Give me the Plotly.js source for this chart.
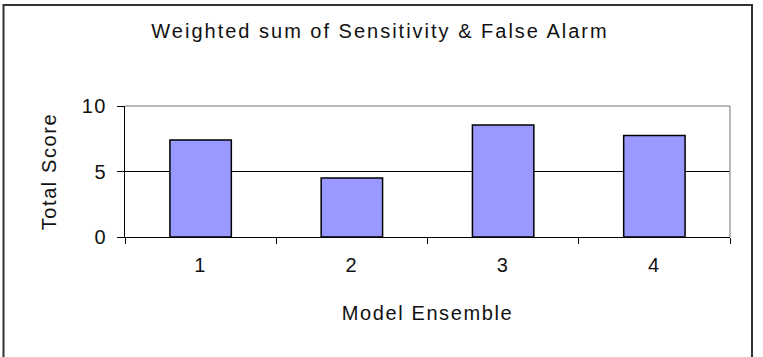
<!DOCTYPE html>
<html>
<head>
<meta charset="utf-8">
<script src="https://cdn.plot.ly/plotly-3.0.1.min.js"></script>
<style>
html,body{margin:0;padding:0;background:#fff;}
#chart{width:763px;height:357px;}
#chart .gtitle{letter-spacing:2px;}
#chart .xtitle,#chart .ytitle{letter-spacing:1.6px;}
#chart .xtick text,#chart .ytick text{letter-spacing:1.5px;}
</style>
</head>
<body>
<div id="chart"></div>
<script>
// Data
var categories = ['1', '2', '3', '4'];
var totalScore = [7.4, 4.5, 8.55, 7.75];
var chartTitle = 'Weighted sum of Sensitivity &amp; False Alarm';
var xTitle = 'Model Ensemble';
var yTitle = 'Total Score';
var yTickVals = [0, 5, 10];
var yTickText = ['0', '5', '10'];

var W = 763, H = 357;
var M = {l: 125, r: 33, t: 106, b: 120};
var pw = W - M.l - M.r, ph = H - M.t - M.b;
function px(x) { return (x - M.l) / pw; }
function py(y) { return (H - M.b - y) / ph; }

var font = {family: '"Liberation Sans", Arial, sans-serif', size: 20, color: '#111'};

var trace = {
  type: 'bar',
  x: categories,
  y: totalScore,
  marker: {color: '#9999FF', line: {color: '#000', width: 1.5}},
  hoverinfo: 'x+y'
};

var layout = {
  width: W, height: H,
  margin: M,
  paper_bgcolor: '#fff',
  plot_bgcolor: '#fff',
  showlegend: false,
  bargap: 0.594,
  font: font,
  title: {
    text: chartTitle,
    font: {family: font.family, size: 20, color: '#111'},
    x: px(380), xref: 'paper', xanchor: 'center',
    y: 1 - 31 / H, yref: 'container', yanchor: 'middle'
  },
  xaxis: {
    type: 'category',
    categoryorder: 'array',
    categoryarray: categories,
    showgrid: false,
    showline: true, linecolor: '#000', linewidth: 1,
    ticks: 'outside', ticklen: 6, tickcolor: '#000', tickwidth: 1,
    tickson: 'boundaries',
    ticklabelstandoff: 10,
    tickfont: font,
    title: {text: xTitle, font: font, standoff: 30},
    zeroline: false,
    fixedrange: true
  },
  yaxis: {
    range: [0, 10],
    tickmode: 'array', tickvals: yTickVals, ticktext: yTickText,
    showgrid: true, gridcolor: '#000', gridwidth: 1,
    showline: true, linecolor: '#000', linewidth: 1,
    ticks: 'outside', ticklen: 7, tickcolor: '#000', tickwidth: 1,
    ticklabelstandoff: 6,
    tickfont: font,
    title: {text: yTitle, font: font, standoff: 22},
    zeroline: false,
    fixedrange: true
  },
  shapes: [
    // plot-area border (top and right) in grey
    {type: 'line', xref: 'paper', yref: 'paper', x0: 0, x1: 1, y0: 1, y1: 1,
     line: {color: '#a0a0a0', width: 1.5}, layer: 'above'},
    {type: 'line', xref: 'paper', yref: 'paper', x0: 1, x1: 1, y0: 0, y1: 1,
     line: {color: '#a0a0a0', width: 1.5}, layer: 'above'},
    // outer chart frame
    {type: 'rect', xref: 'paper', yref: 'paper',
     x0: px(3.5), x1: px(752), y0: py(5), y1: py(365),
     line: {color: '#333', width: 2}, fillcolor: 'rgba(0,0,0,0)', layer: 'above'}
  ]
};

Plotly.newPlot('chart', [trace], layout, {displayModeBar: false, staticPlot: true});
</script>
</body>
</html>
